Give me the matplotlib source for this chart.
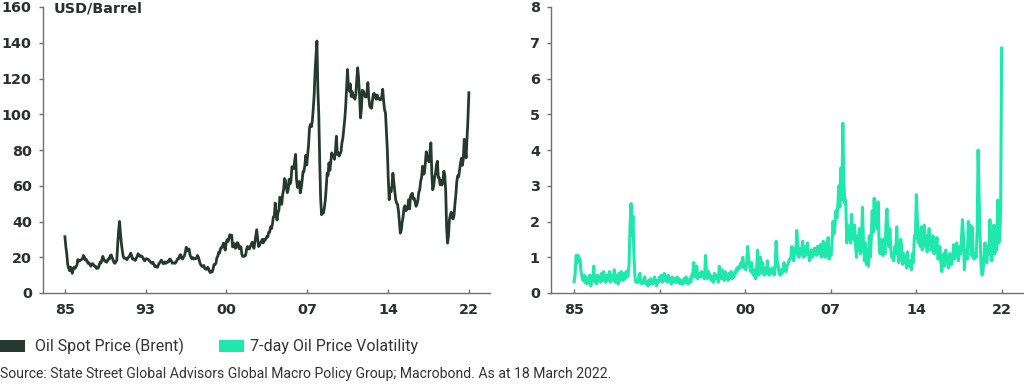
import matplotlib
matplotlib.use("Agg")
import matplotlib.pyplot as plt
from matplotlib.patches import Rectangle
import numpy as np

# Brent spot price, USD/barrel, monthly, Nov 1985 - Mar 2022
brent = [
    31.5, 26.0,
    22.0, 16.0, 14.0, 12.5, 14.5, 12.8, 11.0, 13.8, 14.5, 13.8, 14.8, 15.6,
    18.7, 17.8, 18.0, 18.4, 18.8, 19.2, 21.0, 20.2, 18.4, 18.8, 17.8, 16.6,
    16.9, 16.0, 15.0, 16.2, 16.4, 15.6, 15.0, 15.0, 13.8, 13.8, 14.0, 15.6,
    17.2, 16.8, 18.8, 20.5, 18.6, 17.8, 18.0, 17.2, 18.0, 19.2, 19.0, 21.0,
    21.3, 19.8, 18.4, 17.0, 16.6, 17.6, 18.2, 27.5, 35.0, 40.0, 33.0, 27.5,
    23.5, 20.4, 19.4, 19.5, 19.4, 18.6, 19.8, 20.0, 21.0, 22.3, 21.0, 19.0,
    19.0, 18.8, 18.2, 19.5, 20.4, 22.0, 21.0, 20.5, 20.8, 20.6, 19.8, 18.8,
    18.0, 19.0, 19.2, 19.0, 18.8, 18.2, 17.4, 17.2, 16.6, 17.2, 16.0, 14.8,
    15.2, 14.6, 14.4, 15.8, 16.8, 17.4, 18.4, 17.6, 16.4, 16.6, 17.4, 16.6,
    17.0, 17.6, 17.4, 19.0, 18.8, 17.8, 16.6, 16.8, 16.8, 16.6, 17.4, 18.4,
    19.2, 19.2, 21.2, 21.4, 19.6, 19.0, 20.0, 20.8, 23.0, 25.6, 23.6, 24.0,
    24.6, 21.4, 20.0, 19.2, 19.8, 19.0, 19.4, 19.2, 19.4, 21.0, 20.2, 18.4,
    16.4, 15.6, 14.8, 15.0, 15.4, 13.6, 13.4, 13.2, 14.4, 13.8, 12.2, 11.4,
    12.2, 11.8, 13.6, 16.0, 16.0, 16.6, 19.6, 20.6, 22.8, 22.4, 24.8, 25.6,
    25.6, 27.8, 27.6, 24.0, 27.8, 29.8, 28.8, 30.4, 32.6, 31.0, 32.4, 25.8,
    26.0, 27.6, 25.0, 26.0, 28.2, 27.8, 24.8, 26.0, 25.8, 21.6, 20.4, 20.6,
    20.6, 21.0, 24.2, 26.0, 25.6, 24.6, 26.0, 26.8, 28.4, 27.8, 25.0, 28.4,
    31.6, 35.4, 30.6, 26.0, 26.6, 28.0, 28.8, 30.0, 28.0, 30.0, 29.4, 30.4,
    31.6, 31.4, 34.0, 34.0, 37.0, 36.0, 38.6, 42.6, 43.0, 50.3, 43.6, 40.8,
    45.0, 46.4, 53.6, 52.4, 49.6, 55.0, 57.8, 64.0, 63.0, 59.0, 56.2, 57.8,
    63.6, 61.0, 62.8, 70.6, 70.4, 69.6, 74.0, 77.5, 63.4, 59.0, 59.6, 62.4,
    56.0, 58.6, 62.6, 67.8, 68.0, 71.6, 77.0, 71.6, 77.4, 83.0, 92.4, 94.3,
    93.0, 96.0, 102.7, 110.6, 124.0, 133.0, 141.0, 114.0, 100.0, 74.0, 53.0, 43.8,
    45.8, 44.7, 47.6, 51.6, 58.6, 67.0, 65.8, 72.8, 68.6, 73.8, 78.4, 76.5,
    77.0, 74.8, 79.6, 87.7, 77.6, 78.4, 76.6, 78.0, 79.0, 84.0, 86.6, 92.0,
    97.0, 104.0, 114.6, 125.0, 115.0, 113.0, 117.0, 110.0, 112.6, 109.6, 110.6, 108.4,
    111.0, 119.4, 126.0, 119.8, 110.6, 98.0, 103.0, 113.4, 113.0, 111.6, 109.8, 109.6,
    112.4, 117.7, 109.0, 104.6, 103.6, 103.4, 108.0, 111.4, 111.6, 109.6, 108.4, 110.8,
    108.6, 109.0, 108.0, 108.2, 110.0, 114.0, 107.4, 102.4, 100.8, 90.0, 80.0, 64.0,
    52.2, 58.6, 56.6, 60.0, 67.0, 62.0, 57.0, 52.2, 50.3, 49.6, 46.0, 40.0,
    33.5, 35.0, 39.6, 42.6, 47.6, 48.8, 46.0, 46.8, 47.2, 52.2, 47.0, 54.0,
    55.2, 55.8, 52.6, 53.0, 51.0, 48.5, 49.8, 52.0, 56.4, 57.8, 62.6, 64.8,
    70.9, 66.4, 67.0, 72.6, 79.0, 75.4, 74.6, 73.4, 79.2, 84.0, 67.0, 57.8,
    60.0, 64.6, 66.8, 71.6, 73.7, 64.6, 64.4, 60.6, 63.0, 60.4, 63.2, 68.1,
    66.0, 57.0, 36.0, 27.9, 32.0, 41.0, 43.6, 45.2, 42.0, 41.4, 43.6, 50.0,
    55.2, 62.6, 65.6, 65.0, 68.8, 72.8, 75.4, 71.4, 74.8, 86.0, 81.0, 75.6,
    87.0, 97.4, 112.0,
]

# 7-day oil price volatility, monthly, Nov 1985 - Mar 2022
volatility = [
    0.32, 0.55,
    1.05, 0.85, 1.05, 0.90, 0.95, 0.60, 0.45, 0.35, 0.50, 0.30, 0.45, 0.25,
    0.40, 0.30, 0.50, 0.20, 0.45, 0.35, 0.75, 0.30, 0.40, 0.25, 0.50, 0.35,
    0.45, 0.30, 0.55, 0.35, 0.60, 0.40, 0.30, 0.50, 0.35, 0.45, 0.60, 0.30,
    0.50, 0.35, 0.45, 0.65, 0.30, 0.50, 0.40, 0.25, 0.55, 0.35, 0.60, 0.45,
    0.35, 0.55, 0.40, 0.60, 0.45, 0.50, 0.80, 1.90, 2.50, 1.60, 2.15, 1.00,
    0.45, 0.30, 0.35, 0.30, 0.45, 0.55, 0.30, 0.25, 0.35, 0.30, 0.45, 0.25,
    0.30, 0.20, 0.35, 0.25, 0.40, 0.30, 0.25, 0.35, 0.45, 0.30, 0.20, 0.35,
    0.30, 0.45, 0.35, 0.50, 0.30, 0.40, 0.55, 0.35, 0.45, 0.30, 0.50, 0.40,
    0.35, 0.25, 0.45, 0.30, 0.40, 0.35, 0.30, 0.45, 0.30, 0.40, 0.25, 0.30,
    0.35, 0.25, 0.40, 0.30, 0.45, 0.35, 0.25, 0.30, 0.40, 0.30, 0.50, 0.55,
    0.85, 0.45, 0.60, 0.75, 0.40, 0.50, 0.55, 0.45, 0.60, 0.50, 0.45, 0.40,
    1.05, 0.55, 0.40, 0.60, 0.45, 0.50, 0.35, 0.45, 0.30, 0.55, 0.40, 0.50,
    0.45, 0.30, 0.75, 0.50, 0.40, 0.65, 0.45, 0.35, 0.60, 0.45, 0.50, 0.35,
    0.55, 0.45, 0.60, 0.40, 0.50, 0.45, 0.60, 0.55, 0.70, 0.65, 0.75, 0.70,
    0.85, 0.75, 1.00, 0.70, 0.80, 0.65, 0.90, 1.30, 0.95, 0.75, 0.60, 0.85,
    0.55, 0.50, 0.65, 0.40, 0.60, 1.20, 0.50, 0.70, 1.00, 0.55, 0.85, 0.60,
    0.50, 0.70, 0.55, 0.90, 0.60, 0.50, 0.65, 0.55, 0.70, 0.60, 0.50, 0.75,
    1.45, 0.90, 0.75, 0.55, 0.50, 0.65, 0.55, 0.60, 0.85, 0.70, 0.60, 0.75,
    0.80, 0.90, 0.95, 1.00, 1.30, 1.10, 0.90, 1.25, 1.10, 1.75, 1.35, 1.00,
    1.05, 1.25, 1.10, 1.45, 1.00, 1.30, 1.05, 1.20, 1.40, 1.10, 0.90, 1.05,
    1.20, 1.00, 1.10, 1.25, 1.15, 1.05, 1.30, 1.10, 1.20, 1.35, 1.00, 1.10,
    1.45, 1.10, 1.00, 1.40, 1.05, 1.55, 0.95, 1.15, 1.05, 1.40, 2.00, 1.65,
    1.90, 2.30, 2.10, 2.50, 3.00, 2.40, 3.50, 2.60, 4.75, 3.20, 2.50, 2.60,
    1.40, 1.90, 1.50, 1.70, 1.40, 2.20, 1.60, 1.50, 1.90, 1.30, 1.00, 1.60,
    1.20, 1.80, 1.10, 1.30, 2.40, 1.50, 0.90, 1.40, 0.80, 1.20, 0.75, 1.60,
    1.00, 1.50, 2.30, 1.70, 2.65, 1.90, 2.50, 1.80, 2.55, 1.40, 1.10, 1.50,
    1.20, 1.05, 1.50, 1.10, 1.90, 2.35, 1.60, 1.30, 1.80, 1.20, 1.00, 1.10,
    0.90, 1.30, 1.10, 1.85, 1.20, 0.85, 1.00, 1.50, 1.30, 0.80, 1.10, 0.85,
    1.00, 0.70, 1.15, 0.80, 0.75, 0.90, 0.65, 1.10, 0.85, 1.60, 1.50, 2.75,
    2.10, 1.40, 1.70, 1.30, 1.85, 1.20, 1.45, 1.90, 1.30, 1.60, 1.15, 1.50,
    1.80, 1.50, 1.20, 1.30, 1.60, 1.10, 1.40, 1.20, 1.55, 0.95, 1.00, 1.30,
    0.85, 0.60, 0.95, 1.10, 0.75, 1.20, 0.90, 1.00, 0.70, 1.10, 0.85, 0.80,
    1.00, 1.35, 0.95, 1.05, 1.40, 1.20, 0.90, 1.30, 1.10, 1.50, 2.05, 1.60,
    0.65, 1.20, 1.00, 0.95, 2.00, 1.30, 1.90, 1.05, 1.85, 1.00, 0.95, 1.10,
    1.00, 1.70, 4.00, 2.70, 1.60, 0.80, 0.50, 0.60, 1.00, 1.40, 0.90, 0.85,
    1.30, 1.10, 2.05, 1.20, 0.90, 1.50, 1.90, 1.10, 1.30, 1.20, 2.60, 1.40,
    1.50, 2.40, 6.85,
]

tick_labels = ["85", "93", "00", "07", "14", "22"]

dark = "#243a31"
teal = "#1ee8ac"
spine = "#707070"
txt = "#2b2f2d"

# monthly dates as fractional years, starting Nov 1985
t = 1985 + 10 / 12 + np.arange(len(brent)) / 12
ticks = np.linspace(t[0], t[-1], 6)
xlim = (t[0] - 1.97, t[-1] + 1.9)

plt.rcParams["font.family"] = "DejaVu Sans"

fig = plt.figure(figsize=(10.24, 3.91), dpi=100)
W, H = 1024, 391

ax1 = fig.add_axes([43 / W, 1 - 293 / H, (490 - 43) / W, (293 - 7) / H])
ax2 = fig.add_axes([551 / W, 1 - 293 / H, (1024 - 551) / W, (293 - 7) / H])

ax1.plot(t, brent, color=dark, lw=2.0, solid_joinstyle="round")
ax2.plot(t, volatility, color=teal, lw=2.2, solid_joinstyle="round")

ax1.set_ylim(0, 160)
ax1.set_yticks(range(0, 161, 20))
ax2.set_ylim(0, 8)
ax2.set_yticks(range(0, 9))

for ax in (ax1, ax2):
    ax.set_xlim(*xlim)
    ax.set_xticks(ticks)
    ax.set_xticklabels(tick_labels)
    for s in ("top", "right"):
        ax.spines[s].set_visible(False)
    for s in ("left", "bottom"):
        ax.spines[s].set_color(spine)
        ax.spines[s].set_linewidth(1.0)
    ax.tick_params(axis="x", direction="in", length=3, width=1.0, color=spine,
                   pad=7, labelsize=10.4, labelcolor=txt)
    ax.tick_params(axis="y", direction="out", length=3, width=1.0, color=spine,
                   pad=5, labelsize=10.4, labelcolor=txt)
    for lab in ax.get_xticklabels() + ax.get_yticklabels():
        lab.set_fontweight("bold")
    ax.set_facecolor("none")

fig.text(54 / W, 1 - 9 / H, "USD/Barrel", fontsize=10.4, fontweight="bold",
         color=txt, va="center", ha="left")

# legend
fig.add_artist(Rectangle((0, 1 - 352 / H), 25 / W, 12 / H, transform=fig.transFigure,
                         color=dark, lw=0))
fig.text(35 / W, 1 - 346 / H, "Oil Spot Price (Brent)", fontsize=11.5,
         family="Roboto", color="#333333", va="center", ha="left")
fig.add_artist(Rectangle((219 / W, 1 - 352 / H), 25 / W, 12 / H, transform=fig.transFigure,
                         color=teal, lw=0))
fig.text(250 / W, 1 - 346 / H, "7-day Oil Price Volatility", fontsize=11.5,
         family="Roboto", color="#333333", va="center", ha="left")

fig.text(0, 1 - 374 / H,
         "Source: State Street Global Advisors Global Macro Policy Group; Macrobond. As at 18 March 2022.",
         fontsize=10.1, family="Roboto", color="#333333", va="center", ha="left")

fig.savefig("out.png", dpi=100)
